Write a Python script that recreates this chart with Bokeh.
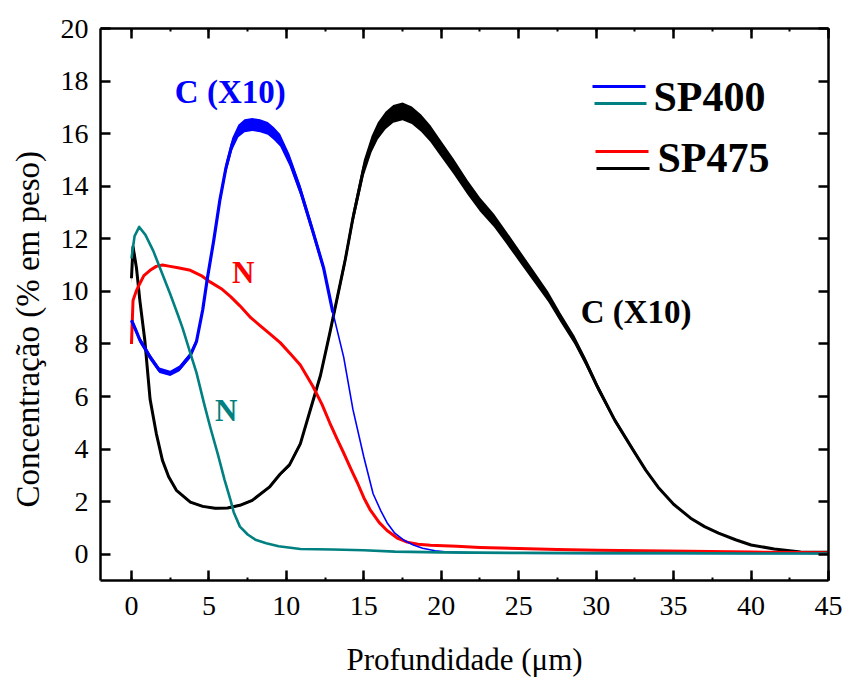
import numpy as np
from bokeh.plotting import figure
from bokeh.models import (Range1d, LinearAxis, SingleIntervalTicker, Label, Arrow,
                          CustomJSTickFormatter)
from bokeh.embed import file_html
from bokeh.resources import INLINE

# ---------------- data ----------------
# SP400, carbon (x10)
c400_x = [0, 0.3, 0.54, 0.9, 1.2, 1.8, 2.5, 3.1, 3.8, 4.2, 4.6, 4.9, 5.3, 5.7, 6.1, 6.5, 6.9,
          7.3, 7.8, 8.3, 8.8, 9.2, 9.6, 10.2, 10.9, 11.7, 12.4, 13.0, 13.7, 14.3, 15.0, 15.6,
          16.1, 16.5, 17.0, 17.6, 18.2, 18.8, 19.6, 20.4, 22, 25, 30, 35, 40, 45]
c400_y = [8.9, 8.5, 8.15, 7.8, 7.5, 7.0, 6.88, 7.07, 7.57, 8.1, 9.3, 10.5, 11.9, 13.45, 14.7,
          15.6, 16.1, 16.3, 16.35, 16.3, 16.2, 16.0, 15.75, 15.0, 13.85, 12.3, 10.9, 9.2, 7.5,
          5.5, 3.7, 2.3, 1.65, 1.2, 0.8, 0.53, 0.35, 0.23, 0.13, 0.08, 0.05, 0.04, 0.03, 0.03,
          0.03, 0.03]

# SP400, nitrogen
n400_x = [0, 0.2, 0.5, 0.9, 1.4, 2.0, 2.5, 3.0, 3.3, 3.8, 4.2, 4.7, 5.1, 5.6, 6.0, 6.4, 6.6,
          7.0, 7.5, 8.0, 8.7, 9.5, 10.9, 13, 15, 17, 20, 25, 30, 35, 40, 45]
n400_y = [11.25, 12.1, 12.45, 12.15, 11.55, 10.65, 9.9, 9.1, 8.6, 7.65, 6.9, 5.7, 4.8, 3.75,
          2.85, 2.05, 1.6, 1.05, 0.75, 0.55, 0.42, 0.3, 0.2, 0.18, 0.15, 0.1, 0.07, 0.05, 0.04,
          0.04, 0.03, 0.03]

# SP475, nitrogen
n475_x = [0, 0.1, 0.3, 0.54, 0.8, 1.2, 1.6, 2.0, 2.5, 3.0, 3.8, 4.5, 5.1, 5.8, 6.4, 7.0, 7.7,
          8.3, 8.9, 9.6, 10.3, 10.9, 11.7, 12.3, 12.8, 13.3, 13.7, 14.2, 14.6, 15.0, 15.4,
          16.0, 16.5, 17.2, 17.8, 18.5, 19.3, 21, 22.5, 25, 27.5, 30.1, 33, 36, 40, 45]
n475_y = [8.0, 9.65, 10.0, 10.3, 10.6, 10.8, 10.95, 11.0, 10.95, 10.9, 10.8, 10.6, 10.35,
          10.1, 9.8, 9.45, 9.0, 8.7, 8.4, 8.05, 7.6, 7.2, 6.4, 5.7, 5.0, 4.35, 3.85, 3.2, 2.7,
          2.15, 1.7, 1.2, 0.9, 0.6, 0.46, 0.38, 0.34, 0.3, 0.26, 0.22, 0.18, 0.15, 0.13, 0.11,
          0.08, 0.06]

# SP475, carbon (x10)
c475_x = [0, 0.1, 0.32, 0.54, 0.86, 1.2, 1.6, 2.0, 2.4, 2.9, 3.8, 4.6, 5.4, 6.2, 7.0, 7.8,
          8.9, 9.6, 10.2, 10.9, 11.6, 12.2, 12.8, 13.3, 13.8, 14.3, 15.0, 15.5, 15.9, 16.4,
          16.9, 17.5, 18.1, 18.7, 19.3, 19.9, 20.8, 21.7, 22.5, 23.4, 24.2, 25.1, 26.0, 26.9,
          27.7, 28.6, 29.3, 30.1, 31.2, 32.4, 33.2, 34.0, 35.0, 36.1, 37.0, 37.9, 39.0, 40.0,
          41.5, 43.2, 45]
c475_y = [10.5, 11.7, 10.9, 9.66, 8.14, 5.9, 4.6, 3.57, 2.95, 2.43, 1.98, 1.82, 1.75, 1.76,
          1.86, 2.05, 2.55, 3.05, 3.4, 4.2, 5.6, 6.8, 8.4, 9.8, 11.2, 12.8, 14.7, 15.6, 16.1,
          16.5, 16.75, 16.85, 16.7, 16.4, 16.0, 15.5, 14.75, 13.95, 13.3, 12.7, 12.05, 11.3,
          10.55, 9.8, 9.0, 8.15, 7.35, 6.35, 5.1, 3.95, 3.2, 2.55, 1.9, 1.37, 1.05, 0.8, 0.55,
          0.35, 0.2, 0.08, 0.07]

x_ticks_interval = 5
y_ticks_interval = 2
series_names = ["SP400", "SP475"]
x_title = "Profundidade (\u03bcm)"
y_title = "Concentra\u00e7\u00e3o (% em peso)"

# ---------------- styling ----------------
BLUE = "#0000FF"
TEAL = "#008080"
RED = "#FF0000"
BLACK = "#000000"
SERIF = "Liberation Serif"

p = figure(width=847, height=679, x_range=Range1d(-2, 45), y_range=Range1d(-1, 20),
           output_backend="svg", toolbar_location=None,
           min_border_left=100, min_border_right=19, min_border_top=28, min_border_bottom=99)
p.xgrid.visible = False
p.ygrid.visible = False
p.outline_line_color = None
p.background_fill_color = "white"
p.border_fill_color = "white"

xt = SingleIntervalTicker(interval=x_ticks_interval, num_minor_ticks=2)
yt = SingleIntervalTicker(interval=y_ticks_interval, num_minor_ticks=0)

def style_axis(ax, labels=True):
    ax.axis_line_width = 2.5
    ax.axis_line_color = BLACK
    ax.major_tick_line_width = 2.5
    ax.major_tick_line_color = BLACK
    ax.major_tick_in = 10
    ax.major_tick_out = 0
    ax.minor_tick_in = 3
    ax.minor_tick_out = 0
    ax.minor_tick_line_width = 2
    ax.minor_tick_line_color = BLACK
    if not labels:
        ax.formatter = CustomJSTickFormatter(code="return ''")
        ax.major_label_standoff = 0

p.xaxis.ticker = xt
p.yaxis.ticker = yt
xa = p.xaxis[0]
ya = p.yaxis[0]
style_axis(xa)
style_axis(ya)
for ax in (xa, ya):
    ax.major_label_text_font = SERIF
    ax.major_label_text_font_size = "28px"
    ax.major_label_text_color = BLACK
    ax.axis_label_text_font = SERIF
    ax.axis_label_text_font_style = "normal"
    ax.axis_label_text_color = BLACK
xa.major_label_standoff = 16
ya.major_label_standoff = 12
xa.axis_label_text_font_size = "31px"
ya.axis_label_text_font_size = "33px"
ya.minor_tick_line_color = None
xa.axis_label = x_title
# trailing no-break spaces shift the centred title toward the bottom, as in the reference
ya.axis_label = y_title + "\u00a0" * 6
xa.axis_label_standoff = 24
ya.axis_label_standoff = 12

top = LinearAxis(ticker=SingleIntervalTicker(interval=x_ticks_interval, num_minor_ticks=2))
style_axis(top, labels=False)
p.add_layout(top, "above")
right = LinearAxis(ticker=SingleIntervalTicker(interval=y_ticks_interval, num_minor_ticks=0))
style_axis(right, labels=False)
right.minor_tick_line_color = None
p.add_layout(right, "right")

# noise band (visual thickness of the measured signal)
def band(xs, ys, color, rel, xmax=None):
    xs = np.asarray(xs, float); ys = np.asarray(ys, float)
    if xmax is not None:
        m = xs <= xmax
        xs, ys = xs[m], ys[m]
    p.varea(x=xs, y1=ys * (1 - rel), y2=ys * (1 + rel), fill_color=color)

band(c475_x, c475_y, BLACK, 0.02)
band(c400_x, c400_y, BLUE, 0.015, xmax=12.4)

r_c475 = p.line(c475_x, c475_y, line_color=BLACK, line_width=3, line_join="round")
r_n475 = p.line(n475_x, n475_y, line_color=RED, line_width=3, line_join="round")
r_c400 = p.line(c400_x, c400_y, line_color=BLUE, line_width=1.6, line_join="round")
c400_thick_x = [v for v in c400_x if v <= 13.0]
p.line(c400_thick_x, c400_y[:len(c400_thick_x)], line_color=BLUE, line_width=3.2, line_join="round")
r_n400 = p.line(n400_x, n400_y, line_color=TEAL, line_width=2.6, line_join="round")

# text annotations
def ann(x, y, text, color, size):
    p.add_layout(Label(x=x, y=y, text=text, text_color=color, text_font=SERIF,
                       text_font_style="bold", text_font_size=size,
                       text_baseline="alphabetic"))

ann(2.8, 17.57, "C (X10)", BLUE, "33px")
ann(29.0, 9.2, "C (X10)", BLACK, "33px")
ann(6.49, 10.73, "N", RED, "31px")
ann(5.39, 5.48, "N", TEAL, "31px")

# legend (drawn in screen units relative to the plot frame)
def key(x0, x1, y, color):
    p.add_layout(Arrow(end=None, x_start=x0, y_start=y, x_end=x1, y_end=y,
                       start_units="screen", end_units="screen",
                       line_color=color, line_width=3))

key(492, 545, 494, BLUE)
key(494, 546, 477, TEAL)
key(495, 548, 429, RED)
key(496, 549, 412, BLACK)
for (lx, ly, txt) in [(553, 484, series_names[0]), (557, 423, series_names[1])]:
    p.add_layout(Label(x=lx, y=ly, x_units="screen", y_units="screen", text=txt,
                       text_color=BLACK, text_font=SERIF, text_font_style="bold",
                       text_font_size="42px", text_baseline="alphabetic"))

open("out.html", "w").write(file_html(p, INLINE))
